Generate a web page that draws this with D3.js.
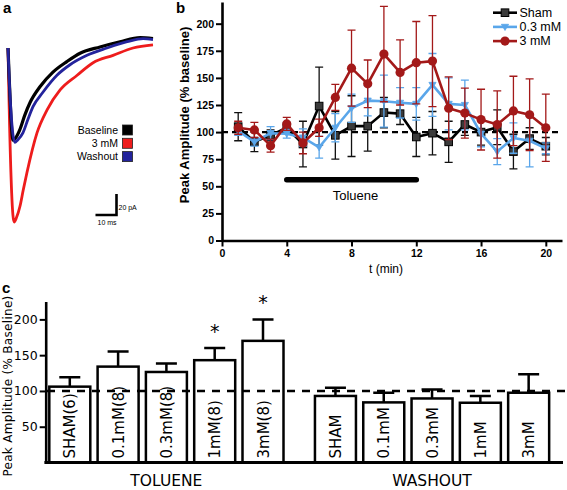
<!DOCTYPE html>
<html><head><meta charset="utf-8">
<script src="https://cdn.jsdelivr.net/npm/d3@7"></script>
<style>
html,body{margin:0;padding:0;background:#fff;}
svg{display:block;}
</style></head>
<body>
<script>
// ---------- Panel a: example traces (ms, pA) ----------
const traceBaseline = [[0,0],[0.6,-30],[2.4,-88],[3.5,-86],[5.6,-78],[8,-64],[10.5,-52],[15.2,-37],[21.4,-23],[28,-13],[34.3,-5],[43.8,1],[53.3,6],[62.9,10],[69,9]];
const trace3mM     = [[0,0],[0.6,-60],[2.9,-166],[4,-162],[5.7,-151],[7.2,-136],[9,-119],[13.8,-81],[18.6,-59],[24.8,-40],[32.9,-26],[40.5,-14],[50,-7],[59.5,0],[69,3]];
const traceWashout = [[0,0],[0.6,-30],[3.3,-90],[4.5,-88],[7.1,-81],[9.5,-68],[11.9,-56],[16.7,-42],[23.3,-26],[29.5,-16],[37.6,-7],[47.1,0],[56.7,6],[64.3,9],[69,8]];
const traceNames  = ["Baseline","3 mM","Washout"];
const traceColors = ["#000000","#ee1c1c","#23239c"];

// ---------- Panel b: time course ----------
const times    = [1,2,3,4,5,6,7,8,9,10,11,12,13,14,15,16,17,18,19,20];
const shamMean = [105,91,97,104,89,124,97,105.5,105.5,118,117,95.5,99,91,107,100,104.5,82,94,87];
const shamSem  = [13,9,5,5,21,36,22,28,23,14,10,18,20,19,10,12,16,16,10,8];
const mM03Mean = [101,91,99,98.5,95,86,104,122,129,128.5,127,126,143.5,126,125,98.5,82,94.5,92,85];
const mM03Sem  = [4,4,6,4,8,10,13,13,14,24,14,15,29,24,23,12,12,14,24,5];
const mM3Mean  = [104,102,87.5,107.5,90,104,132,159,144.5,172,155,164,165.5,122,117.5,111.5,107,119.5,116,104];
const mM3Sem   = [6,7,6,6,10,8,12,35,22,44,30,38,42,29,23,28,31,32,33,31];
const seriesNames = ["Sham","0.3 mM","3 mM"];
const yTicksB = [0,25,50,75,100,125,150,175,200];
const xTicksB = [0,4,8,12,16,20];
const tolueneWindow = [4,12];

// ---------- Panel c: bar chart ----------
const tolueneLabels = ["SHAM(6)","0.1mM(8)","0.3mM(8)","1mM(8)","3mM(8)"];
const tolueneMeans  = [106,134,126.5,143,170];
const tolueneErr    = [13,21,12,17,30];
const tolueneSig    = [false,false,false,true,true];
const washoutLabels = ["SHAM","0.1mM","0.3mM","1mM","3mM"];
const washoutMeans  = [93,84,89.5,83.5,97.5];
const washoutErr    = [11.5,13.5,12.5,9.5,26];
const yTicksC = [50,100,150,200];

const W = 567, H = 490;
const svg = d3.select("body").append("svg").attr("width",W).attr("height",H)
  .style("background","#fff");
const ARIAL = "'Liberation Sans', Arial, Helvetica, sans-serif";
const LUC = "'DejaVu Sans', Verdana, sans-serif";

// ================= Panel a =================
const ga = svg.append("g");
ga.append("text").attr("x",3).attr("y",13).text("a")
  .attr("font-family",ARIAL).attr("font-weight","bold").attr("font-size",15);
const xa = d3.scaleLinear().domain([0,69]).range([8,153]);
const ya = d3.scaleLinear().domain([0,-166]).range([48,222]);
const lineA = d3.line().x(d=>xa(d[0])).y(d=>ya(d[1])).curve(d3.curveMonotoneX);
const traces = [traceBaseline, trace3mM, traceWashout];
[1,0,2].forEach(i=>{
  ga.append("path").attr("d",lineA(traces[i])).attr("fill","none")
    .attr("stroke",traceColors[i]).attr("stroke-width",i===0?3.2:2.8)
    .attr("stroke-linejoin","round");
});
// legend
traceNames.forEach((n,i)=>{
  const yy = 130 + i*13.3;
  ga.append("text").attr("x",118).attr("y",yy+3.6).attr("text-anchor","end")
    .text(n).attr("font-family",ARIAL).attr("font-size",10.5);
  ga.append("rect").attr("x",122.5).attr("y",yy-5).attr("width",10).attr("height",10)
    .attr("fill",traceColors[i]).attr("stroke","#222").attr("stroke-width",0.8);
});
// scale bar: 10 ms, 20 pA
const sbX = 116.5, sbY = 215;
ga.append("path").attr("fill","none").attr("stroke","#000").attr("stroke-width",2.6)
  .attr("d",`M${sbX - (xa(10)-xa(0))},${sbY}H${sbX}V${sbY - (ya(-20)-ya(0))}`);
ga.append("text").attr("x",sbX+2).attr("y",sbY-5).text("20 pA")
  .attr("font-family",ARIAL).attr("font-size",7);
ga.append("text").attr("x",sbX-19).attr("y",sbY+10).text("10 ms")
  .attr("font-family",ARIAL).attr("font-size",7);

// ================= Panel b =================
const gb = svg.append("g");
gb.append("text").attr("x",176).attr("y",13).text("b")
  .attr("font-family",ARIAL).attr("font-weight","bold").attr("font-size",15);
const xb = d3.scaleLinear().domain([0,21]).range([222,562]);
const yb = d3.scaleLinear().domain([0,220]).range([240.5,2]);

// dashed 100 line
gb.append("line").attr("x1",xb(0)).attr("x2",xb(21)).attr("y1",yb(100)).attr("y2",yb(100))
  .attr("stroke","#000").attr("stroke-width",2.4).attr("stroke-dasharray","6,4");

const axL = gb.append("g").attr("transform",`translate(${xb(0)},0)`)
  .call(d3.axisLeft(yb).tickValues(yTicksB).tickSize(6).tickSizeOuter(0).tickPadding(2));
const axB = gb.append("g").attr("transform",`translate(0,${yb(0)})`)
  .call(d3.axisBottom(xb).tickValues(xTicksB).tickSize(6).tickSizeOuter(0).tickPadding(3));
[axL,axB].forEach(ax=>{
  ax.select(".domain").attr("stroke","#000").attr("stroke-width",2.6);
  ax.selectAll(".tick line").attr("stroke","#000").attr("stroke-width",2);
  ax.selectAll(".tick text").attr("fill","#000").attr("font-family",ARIAL)
    .attr("font-weight","bold").attr("font-size",10.5);
});
gb.append("text").attr("transform",`translate(189,${115}) rotate(-90)`)
  .attr("text-anchor","middle").text("Peak Amplitude (% baseline)")
  .attr("font-family",ARIAL).attr("font-weight","bold").attr("font-size",13);
gb.append("text").attr("x",386).attr("y",273).attr("text-anchor","middle").text("t (min)")
  .attr("font-family",ARIAL).attr("font-size",12);

// toluene bar
gb.append("line").attr("x1",xb(tolueneWindow[0])).attr("x2",xb(tolueneWindow[1]))
  .attr("y1",yb(56)).attr("y2",yb(56)).attr("stroke","#000").attr("stroke-width",5.5)
  .attr("stroke-linecap","round");
gb.append("text").attr("x",355.5).attr("y",200).attr("text-anchor","middle").text("Toluene")
  .attr("font-family",ARIAL).attr("font-size",13);

const series = [
  {name:seriesNames[0], mean:shamMean, sem:shamSem, color:"#000000", marker:"square", fill:"#3a3a3a", err:"#111"},
  {name:seriesNames[1], mean:mM03Mean, sem:mM03Sem, color:"#5aa6ea", marker:"tri", fill:"#5aa6ea", err:"#5aa6ea"},
  {name:seriesNames[2], mean:mM3Mean,  sem:mM3Sem,  color:"#a31919", marker:"circle", fill:"#a31919", err:"#a31919"}
];
function drawMarker(g, type, x, y, fill, stroke){
  if(type==="square"){
    g.append("rect").attr("x",x-3.8).attr("y",y-3.8).attr("width",7.6).attr("height",7.6)
      .attr("fill",fill).attr("stroke","#000").attr("stroke-width",1);
  } else if(type==="tri"){
    g.append("path").attr("d",`M${x-3.6},${y-2.6}L${x+3.6},${y-2.6}L${x},${y+3.6}Z`)
      .attr("fill",fill).attr("stroke",stroke).attr("stroke-width",0.8);
  } else {
    g.append("circle").attr("cx",x).attr("cy",y).attr("r",4.6).attr("fill",fill);
  }
}
const lineB = d3.line().x(d=>xb(d.t)).y(d=>yb(d.v));
series.forEach(s=>{
  const g = gb.append("g");
  const pts = times.map((t,i)=>({t, v:s.mean[i], e:s.sem[i]}));
  pts.forEach(p=>{
    const x = xb(p.t);
    g.append("path").attr("fill","none").attr("stroke",s.err).attr("stroke-width",1.3)
      .attr("d",`M${x},${yb(p.v-p.e)}V${yb(p.v+p.e)}M${x-4},${yb(p.v+p.e)}H${x+4}M${x-4},${yb(p.v-p.e)}H${x+4}`);
  });
  g.append("path").attr("d",lineB(pts)).attr("fill","none").attr("stroke",s.color)
    .attr("stroke-width",2.6).attr("stroke-linejoin","round");
  pts.forEach(p=>drawMarker(g, s.marker, xb(p.t), yb(p.v), s.fill, s.color));
});
// legend b
series.forEach((s,i)=>{
  const yy = 12.7 + i*14.2;
  gb.append("line").attr("x1",493).attr("x2",517).attr("y1",yy).attr("y2",yy)
    .attr("stroke",s.color).attr("stroke-width",2.6);
  drawMarker(gb, s.marker, 505, yy, s.fill, s.color);
  gb.append("text").attr("x",519.5).attr("y",yy+4.3).text(s.name)
    .attr("font-family",ARIAL).attr("font-size",12.5);
});

// ================= Panel c =================
const gc = svg.append("g");
gc.append("text").attr("x",2).attr("y",293).text("c")
  .attr("font-family",ARIAL).attr("font-weight","bold").attr("font-size",15);
const yc = d3.scaleLinear().domain([0,225]).range([462.5,301.5]);
const xc = d3.scaleLinear().domain([0,1]).range([49.3,97.6]); // slot index -> left edge
const bw = 41;
const bars = [];
tolueneLabels.forEach((l,i)=>bars.push({slot:i, label:l, v:tolueneMeans[i], e:tolueneErr[i], sig:tolueneSig[i]}));
washoutLabels.forEach((l,i)=>bars.push({slot:5.5+i, label:l, v:washoutMeans[i], e:washoutErr[i], sig:false}));

bars.forEach(b=>{
  const x0 = xc(b.slot), cx = x0 + bw/2;
  gc.append("path").attr("fill","none").attr("stroke","#000").attr("stroke-width",2.5)
    .attr("d",`M${cx},${yc(b.v)}V${yc(b.v+b.e)}M${cx-10.5},${yc(b.v+b.e)}H${cx+10.5}`);
  gc.append("rect").attr("x",x0).attr("y",yc(b.v)).attr("width",bw).attr("height",yc(0)-yc(b.v))
    .attr("fill","#fff").attr("stroke","#000").attr("stroke-width",2.5);
});
// dashed line at 100
gc.append("line").attr("x1",47).attr("x2",567).attr("y1",yc(100)).attr("y2",yc(100))
  .attr("stroke","#000").attr("stroke-width",2.6).attr("stroke-dasharray","8,7");
bars.forEach(b=>{
  const cx = xc(b.slot) + bw/2;
  gc.append("text").attr("transform",`translate(${cx+5.5},${yc(0)-4}) rotate(-90)`)
    .text(b.label).attr("font-family",LUC).attr("font-size",15);
  if(b.sig){
    gc.append("text").attr("x",cx).attr("y",yc(b.v+b.e)-10).attr("text-anchor","middle")
      .text("*").attr("font-family",LUC).attr("font-size",19);
  }
});
const axCL = gc.append("g").attr("transform",`translate(45.7,0)`)
  .call(d3.axisLeft(yc).tickValues(yTicksC).tickSize(6).tickSizeOuter(0).tickPadding(2));
axCL.select(".domain").attr("stroke","#000").attr("stroke-width",2.6);
axCL.selectAll(".tick line").attr("stroke","#000").attr("stroke-width",2);
axCL.selectAll(".tick text").attr("fill","#000").attr("font-family",LUC).attr("font-size",12.5);
gc.append("line").attr("x1",44.4).attr("x2",563).attr("y1",yc(0)).attr("y2",yc(0))
  .attr("stroke","#000").attr("stroke-width",2.8);
gc.append("text").attr("transform",`translate(12,386) rotate(-90)`).attr("text-anchor","middle")
  .text("Peak Amplitude (% Baseline)").attr("font-family",LUC).attr("font-size",12)
  .attr("letter-spacing",0.3);
gc.append("text").attr("x",(xc(0)+xc(4)+bw)/2).attr("y",486).attr("text-anchor","middle")
  .text("TOLUENE").attr("font-family",LUC).attr("font-size",15.5);
gc.append("text").attr("x",(xc(5.5)+xc(9.5)+bw)/2).attr("y",486).attr("text-anchor","middle")
  .text("WASHOUT").attr("font-family",LUC).attr("font-size",15.5);
</script>
</body></html>
